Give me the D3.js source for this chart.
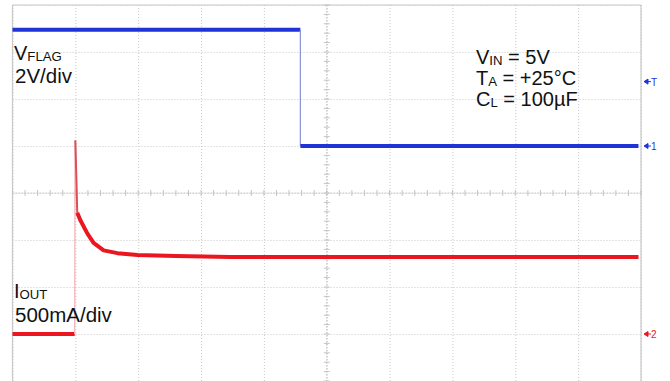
<!DOCTYPE html>
<html><head><meta charset="utf-8">
<script src="https://cdn.jsdelivr.net/npm/d3@7"></script>
<style>
html,body{margin:0;padding:0;background:#fff;}
svg{display:block;}
text{font-family:"Liberation Sans",Arial,sans-serif;fill:#111;}
</style></head><body>
<script>
// Time in divisions (10 div across), channel 1 in volts (2 V/div), channel 2 in amps (0.5 A/div)
const timeDiv = [0,1,2,3,4,5,6,7,8,9,10];
const vflagT = [0, 4.58, 4.58, 9.96];
const vflagV = [4.95, 4.95, 0.0, 0.0];
const ioutT = [0, 0.99, 0.995, 1.0, 1.017, 1.03, 1.08, 1.19, 1.29, 1.45, 1.67, 1.99, 2.6, 3.47, 6.0, 9.96];
const ioutA = [0, 0, 2.06, 2.06, 1.64, 1.29, 1.21, 1.07, 0.97, 0.89, 0.86, 0.84, 0.83, 0.82, 0.82, 0.82];
const labelsLeft = [["V","FLAG"],["2V/div",""],["I","OUT"],["500mA/div",""]];
const labelsRight = [["V","IN"," = 5V"],["T","A"," = +25°C"],["C","L"," = 100µF"]];

const W = 670, H = 381;
const svg = d3.select("body").append("svg").attr("width", W).attr("height", H);

const x = d3.scaleLinear().domain([0,10]).range([12.5, 641]);
const yDiv = d3.scaleLinear().domain([0,8]).range([5, 381]);
const y1 = d3.scaleLinear().domain([0,2]).range([yDiv(3), yDiv(2)]);   // ch1 ground at div 3
const y2 = d3.scaleLinear().domain([0,0.5]).range([yDiv(7), yDiv(6)]); // ch2 ground at div 7

// Grid (dotted) via axes
const gx = svg.append("g").attr("transform", `translate(0,${yDiv(8)})`)
  .call(d3.axisBottom(x).tickValues(timeDiv).tickSize(-376).tickFormat(""));
gx.select(".domain").remove();
gx.selectAll("line").attr("stroke","#c8c8c8").attr("stroke-dasharray","1,2");
const gy = svg.append("g").attr("transform", `translate(${x(0)},0)`)
  .call(d3.axisLeft(yDiv).tickValues(d3.range(0,9)).tickSize(-(x(10)-x(0))).tickFormat(""));
gy.select(".domain").remove();
gy.selectAll("line").attr("stroke","#c8c8c8").attr("stroke-dasharray","1,2");

// Frame
svg.append("line").attr("x1",x(0)).attr("x2",x(0)).attr("y1",yDiv(0)).attr("y2",H).attr("stroke","#c8c8c8").attr("stroke-width",1.2);
svg.append("line").attr("x1",x(10)).attr("x2",x(10)).attr("y1",yDiv(0)).attr("y2",H).attr("stroke","#c8c8c8").attr("stroke-width",1.2);
svg.append("line").attr("x1",x(0)).attr("x2",x(10)).attr("y1",yDiv(0)).attr("y2",yDiv(0)).attr("stroke","#c8c8c8").attr("stroke-width",1.2);

// Center axes with minor ticks
const cy = yDiv(4), cx = x(5);
svg.append("line").attr("x1",x(0)).attr("x2",x(10)).attr("y1",cy).attr("y2",cy).attr("stroke","#cccccc").attr("stroke-dasharray","2,1");
svg.append("line").attr("x1",cx).attr("x2",cx).attr("y1",yDiv(0)).attr("y2",H).attr("stroke","#cccccc").attr("stroke-dasharray","2,1");
svg.append("g").selectAll("line").data(d3.range(0,50.01,1)).join("line")
  .attr("x1",d=>x(d/5)).attr("x2",d=>x(d/5)).attr("y1",cy-3).attr("y2",cy+3).attr("stroke","#c4c4c4");
svg.append("g").selectAll("line").data(d3.range(0,40.01,1)).join("line")
  .attr("y1",d=>yDiv(d/5)).attr("y2",d=>yDiv(d/5)).attr("x1",cx-3).attr("x2",cx+3).attr("stroke","#c4c4c4");

// Traces
const blue = "#1f34d6", red = "#ea1620";
const v1 = vflagT.map((t,i)=>[t, vflagV[i]]);
const line1 = d3.line().x(d=>x(d[0])).y(d=>y1(d[1]));
svg.append("path").datum(v1.slice(0,2)).attr("d",line1).attr("fill","none").attr("stroke",blue).attr("stroke-width",4);
svg.append("path").datum(v1.slice(1,3)).attr("d",line1).attr("fill","none").attr("stroke","#8a92d8").attr("stroke-width",1.2);
svg.append("path").datum(v1.slice(2)).attr("d",line1).attr("fill","none").attr("stroke",blue).attr("stroke-width",4);

const i2 = ioutT.map((t,i)=>[t, ioutA[i]]);
const line2 = d3.line().x(d=>x(d[0])).y(d=>y2(d[1]));
svg.append("path").datum(i2.slice(0,2)).attr("d",line2).attr("fill","none").attr("stroke",red).attr("stroke-width",4);
svg.append("path").datum(i2.slice(1,3)).attr("d",line2).attr("fill","none").attr("stroke","#f2b0b6").attr("stroke-width",1.2);
svg.append("path").datum(i2.slice(3,6)).attr("d",line2).attr("fill","none").attr("stroke","#d8505a").attr("stroke-width",2);
svg.append("path").datum(i2.slice(5)).attr("d",line2).attr("fill","none").attr("stroke",red).attr("stroke-width",4).attr("stroke-linejoin","round");

// Right-side markers
function marker(yv, color, lab){
  const g = svg.append("g").attr("fill",color);
  g.append("path").attr("d",`M${x(10)+3},${yv} l4,-2.5 l0,5 z M${x(10)+6},${yv} h4`).attr("stroke",color).attr("stroke-width",1);
  g.append("text").attr("x",x(10)+10).attr("y",yv+4).attr("font-size",10).style("fill",color).text(lab);
}
marker(yDiv(1.63), blue, "T");
marker(y1(0), blue, "1");
marker(y2(0), red, "2");

// Labels
function label(xp, yp, parts, fs){
  const t = svg.append("text").attr("x",xp).attr("y",yp).attr("font-size",fs);
  t.append("tspan").text(parts[0]);
  if(parts[1]) t.append("tspan").attr("font-size",fs*0.66).attr("dy",1).text(parts[1]);
  if(parts[2]) t.append("tspan").attr("font-size",fs).attr("dy",-1).text(parts[2]);
}
label(14, 60, labelsLeft[0], 20);
label(15, 83, labelsLeft[1], 20.5);
label(14, 298, labelsLeft[2], 20);
label(15, 322, labelsLeft[3], 20.5);
label(476, 64, labelsRight[0], 20);
label(476, 85, labelsRight[1], 20);
label(476, 106, labelsRight[2], 20);
</script>
</body></html>
